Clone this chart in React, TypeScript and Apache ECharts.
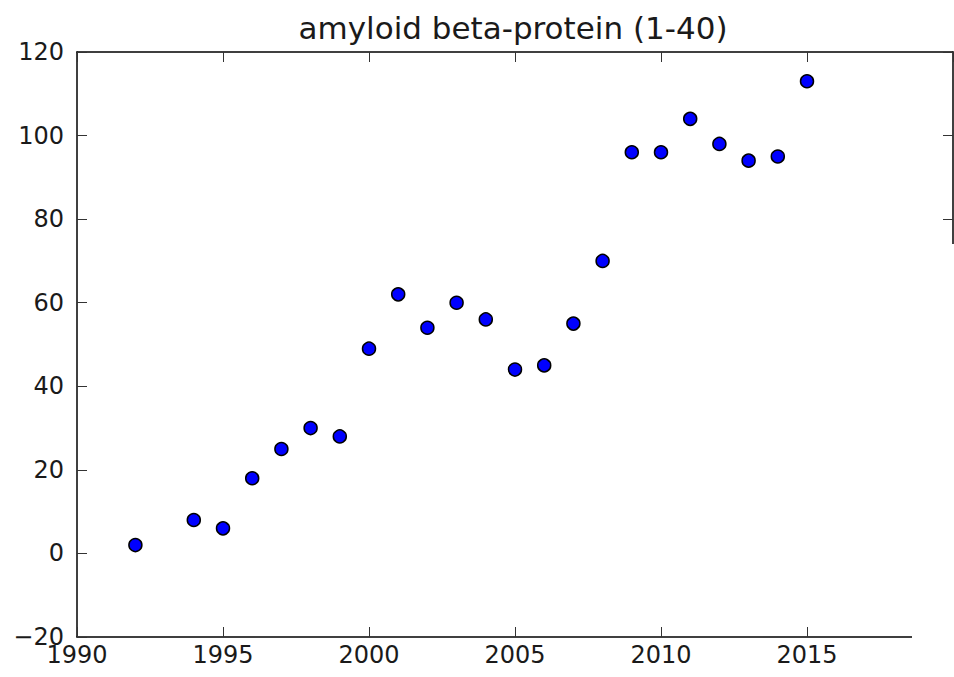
import React, { useEffect, useRef } from "react";
import * as echarts from "echarts";

const years = [1992, 1994, 1995, 1996, 1997, 1998, 1999, 2000, 2001, 2002, 2003, 2004, 2005, 2006, 2007, 2008, 2009, 2010, 2011, 2012, 2013, 2014, 2015];
const counts = [2, 8, 6, 18, 25, 30, 28, 49, 62, 54, 60, 56, 44, 45, 55, 70, 96, 96, 104, 98, 94, 95, 113];
const titleText = "amyloid beta-protein (1-40)";

export default function App() {
  const ref = useRef<HTMLDivElement>(null);
  useEffect(() => {
    if (!ref.current) return;
    const chart = echarts.init(ref.current, null, { renderer: "svg" });
    const font = "DejaVu Sans";
    const tickStyle = { show: true, inside: true, length: 10, lineStyle: { color: "#333", width: 1 } };
    const lineStyle = { show: true, onZero: false, lineStyle: { color: "#000", width: 1.5 } };
    chart.setOption({
      animation: false,
      backgroundColor: "#fff",
      title: {
        text: titleText,
        left: 508,
        textAlign: "center",
        top: 7,
        textStyle: { fontFamily: font, fontSize: 31, fontWeight: "normal", color: "#1a1a1a" },
      },
      grid: { left: 77, right: 1, top: 52, bottom: 40, containLabel: false, outerBoundsMode: "none" },
      xAxis: [
        {
          type: "value", min: 1990, max: 2020, interval: 5, position: "bottom",
          axisLine: lineStyle, axisTick: tickStyle, splitLine: { show: false },
          axisLabel: {
            fontFamily: font, fontSize: 24, color: "#1a1a1a", margin: 6,
            formatter: (v: number) => (v >= 2020 ? "" : String(v)),
          },
        },
        {
          type: "value", min: 1990, max: 2020, interval: 5, position: "top",
          axisLine: lineStyle, axisTick: tickStyle, splitLine: { show: false }, axisLabel: { show: false },
        },
      ],
      yAxis: [
        {
          type: "value", min: -20, max: 120, interval: 20, position: "left",
          axisLine: lineStyle, axisTick: tickStyle, splitLine: { show: false },
          axisLabel: {
            fontFamily: font, fontSize: 24, color: "#1a1a1a", margin: 13,
            formatter: (v: number) => String(v).replace("-", "\u2212"),
          },
        },
        {
          type: "value", min: -20, max: 120, interval: 20, position: "right",
          axisLine: lineStyle, axisTick: tickStyle, splitLine: { show: false }, axisLabel: { show: false },
        },
      ],
      graphic: [
        { type: "rect", z: 100, shape: { x: 912, y: 244, width: 60, height: 440 }, style: { fill: "#fff" } },
      ],
      series: [
        {
          type: "scatter",
          xAxisIndex: 0,
          yAxisIndex: 0,
          symbol: "circle",
          symbolSize: 13,
          itemStyle: { color: "#0000ff", borderColor: "#000", borderWidth: 1.5, opacity: 1 },
          data: years.map((y, i) => [y, counts[i]]),
        },
      ],
    });
    return () => chart.dispose();
  }, []);
  return <div ref={ref} style={{ position: "fixed", left: 0, top: 0, width: 954, height: 677 }} />;
}
